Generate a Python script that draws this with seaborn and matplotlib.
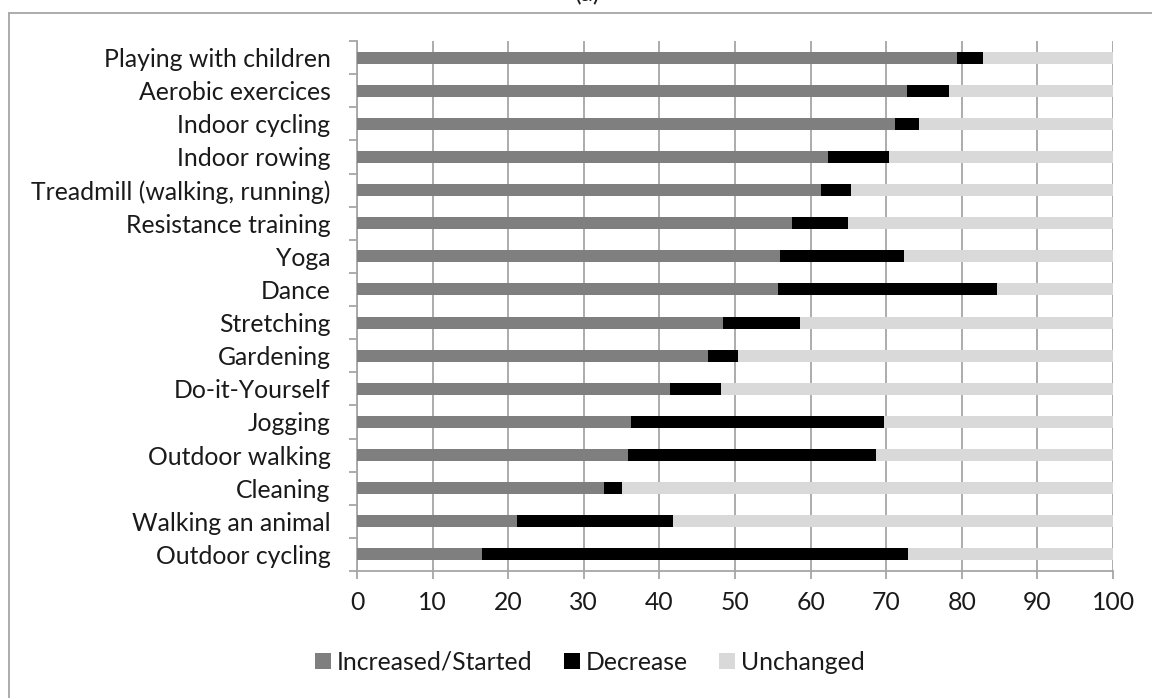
import matplotlib
matplotlib.use("Agg")
import matplotlib.pyplot as plt
import seaborn as sns
import pandas as pd
from matplotlib.lines import Line2D
from matplotlib.patches import Patch
from matplotlib.ticker import FixedLocator

categories = ["Playing with children", "Aerobic exercices", "Indoor cycling", "Indoor rowing",
              "Treadmill (walking, running)", "Resistance training", "Yoga", "Dance",
              "Stretching", "Gardening", "Do-it-Yourself", "Jogging", "Outdoor walking",
              "Cleaning", "Walking an animal", "Outdoor cycling"]
increased = [79.3, 72.8, 71.1, 62.3, 61.4, 57.6, 55.9, 55.7, 48.4, 46.4, 41.4, 36.3, 35.8, 32.7, 21.1, 16.5]
decrease = [3.5, 5.5, 3.2, 8.1, 3.9, 7.4, 16.4, 29.0, 10.2, 4.0, 6.7, 33.4, 32.8, 2.4, 20.7, 56.4]
unchanged = [round(100 - a - b, 1) for a, b in zip(increased, decrease)]
series_names = ["Increased/Started", "Decrease", "Unchanged"]
x_ticks = [0, 10, 20, 30, 40, 50, 60, 70, 80, 90, 100]

colors = {"Increased/Started": "#7f7f7f", "Decrease": "#000000", "Unchanged": "#d9d9d9"}

df = pd.DataFrame({"cat": categories, "inc": increased, "dec": decrease, "unc": unchanged})
df["cum_dec"] = df["inc"] + df["dec"]
df["cum_unc"] = df["cum_dec"] + df["unc"]

sns.set_theme(style="white")
plt.rcParams["font.family"] = ["Lato", "DejaVu Sans"]

fig = plt.figure(figsize=(11.52, 6.98), dpi=100)
ax = fig.add_axes([357/1152, 1 - 571/698, (1113 - 357)/1152, (571 - 41)/698])

bw = 0.36
sns.barplot(data=df, y="cat", x="cum_unc", orient="h", color=colors["Unchanged"], width=bw,
            saturation=1, ax=ax, zorder=3, linewidth=0)
sns.barplot(data=df, y="cat", x="cum_dec", orient="h", color=colors["Decrease"], width=bw,
            saturation=1, ax=ax, zorder=3, linewidth=0)
sns.barplot(data=df, y="cat", x="inc", orient="h", color=colors["Increased/Started"], width=bw,
            saturation=1, ax=ax, zorder=3, linewidth=0)

ax.set_xlim(0, 100)
ax.set_ylim(len(categories) - 0.5, -0.5)
ax.set_xlabel("")
ax.set_ylabel("")
ax.set_xticks(x_ticks)
ax.set_xticklabels([str(t) for t in x_ticks])
ax.xaxis.grid(True, color="#a6a6a6", linewidth=1.3, zorder=0)
ax.yaxis.grid(False)
ax.set_axisbelow(True)

for s in ["top", "right"]:
    ax.spines[s].set_visible(False)
for s in ["left", "bottom"]:
    ax.spines[s].set_color("#a6a6a6")
    ax.spines[s].set_linewidth(1.3)

txt = "#1a1a1a"
fs = 17.8
ax.yaxis.set_minor_locator(FixedLocator([i - 0.5 for i in range(len(categories) + 1)]))
ax.tick_params(axis="y", which="major", length=0, pad=19, labelsize=fs, labelcolor=txt)
ax.tick_params(axis="y", which="minor", length=6, width=1.3, color="#a6a6a6", left=True)
ax.tick_params(axis="x", which="major", length=5.5, width=1.3, color="#a6a6a6", bottom=True,
               pad=9, labelsize=fs, labelcolor=txt)

handles = [Patch(facecolor=colors[n], edgecolor="none") for n in series_names]
fig.legend(handles, series_names, loc="center", bbox_to_anchor=(590/1152, 1 - 662/698),
           ncol=3, frameon=False, fontsize=fs, handlelength=0.65, handleheight=0.65,
           handletextpad=0.25, columnspacing=1.25, labelcolor=txt)

# outer chart frame (top and left edges visible, rest runs off the image)
fig.add_artist(Line2D([9/1152, 1.01], [1 - 13/698] * 2, transform=fig.transFigure,
                      color="#a6a6a6", linewidth=1.3))
fig.add_artist(Line2D([9/1152] * 2, [1 - 13/698, -0.01], transform=fig.transFigure,
                      color="#a6a6a6", linewidth=1.3))
fig.text(588/1152, 1 + 6/698, "(a)", ha="center", va="center", fontsize=fs, color=txt)

fig.savefig("out.png", dpi=100)
